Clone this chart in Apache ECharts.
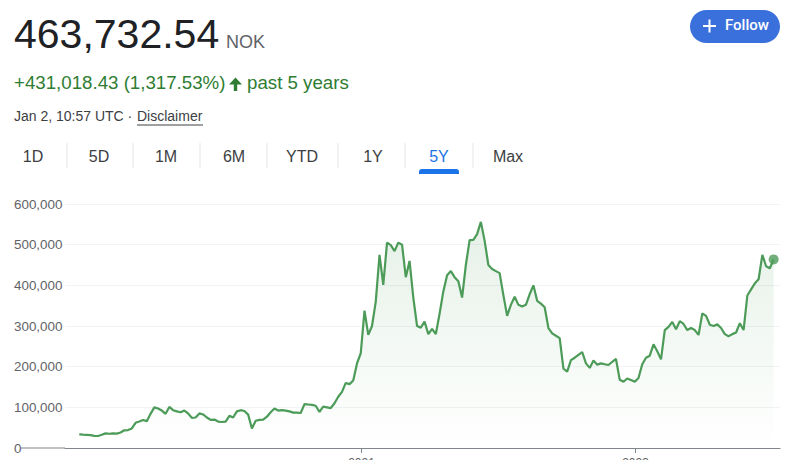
<!DOCTYPE html>
<html>
<head>
<meta charset="utf-8">
<script src="https://cdn.jsdelivr.net/npm/echarts@6/dist/echarts.min.js"></script>
<style>
  html, body { margin: 0; padding: 0; background: #fff; }
  #chart { width: 800px; height: 460px; }
</style>
</head>
<body>
<div id="chart"></div>
<script>
// ---- data ----
const priceText = '463,732.54';
const currency = 'NOK';
const changeText = '+431,018.43 (1,317.53%)';
const periodText = 'past 5 years';
const stampText = 'Jan 2, 10:57 UTC · ';
const disclaimerText = 'Disclaimer';
const tabs = ['1D', '5D', '1M', '6M', 'YTD', '1Y', '5Y', 'Max'];
const activeTab = '5Y';
const yTicks = [0, 100000, 200000, 300000, 400000, 500000, 600000];
const xTickYears = [2021, 2023];
const firstDate = [2018, 11, 11];   // y, m(0-based), d of first sample
const stepDays = 10;                // spacing of samples
const prices = [
  33700, 33000, 32500, 31500, 30000, 29500, 32500, 36000, 35000, 36000,
  35500, 38000, 43500, 44000, 48000, 62000, 65000, 69000, 66000, 84000,
  100000, 97000, 92000, 84000, 101000, 93000, 90000, 88000, 92000, 85000,
  74000, 75000, 85000, 82500, 75000, 69000, 70000, 65000, 64000, 65000,
  79000, 75000, 90000, 93000, 91000, 82000, 48000, 67000, 69000, 70000,
  77000, 88000, 97000, 92000, 93000, 92000, 90000, 87000, 87000, 86000,
  108000, 107000, 106000, 104000, 89000, 101600, 100000, 98000, 110000, 126000,
  138000, 160000, 157000, 166000, 208000, 233000, 338000, 278000, 300000, 360000,
  475000, 401000, 505000, 499000, 484000, 505000, 500000, 420000, 460000, 370000,
  300000, 296000, 311000, 280000, 293000, 280000, 330000, 385000, 425000, 435000,
  420000, 410000, 370000, 450000, 511000, 512000, 526000, 556000, 510000, 450000,
  440000, 435000, 430000, 376000, 325000, 352000, 372000, 352000, 348000, 352000,
  378000, 400000, 362000, 355000, 346000, 295000, 282000, 276000, 270000, 195000,
  188000, 216000, 222000, 229000, 236000, 208000, 197000, 215000, 205000, 208000,
  206000, 204000, 212000, 219000, 168000, 163000, 171000, 167000, 163000, 172000,
  206000, 222000, 227000, 255000, 238000, 218000, 290000, 298000, 310000, 292000,
  312000, 305000, 290000, 295000, 290000, 278000, 331000, 325000, 303000, 300000,
  304000, 295000, 280000, 275000, 280000, 284000, 307000, 290000, 375000, 390000,
  405000, 415000, 475000, 447000, 442000, 463732.54
];

// ---- build ----
const DAY = 86400000;
const t0 = new Date(firstDate[0], firstDate[1], firstDate[2]).getTime();
const dates = prices.map((_, i) => t0 + i * stepDays * DAY);
const seriesData = prices.map((v, i) => [dates[i], v]);
const lastPoint = seriesData[seriesData.length - 1];
const xMin = new Date(2018, 10, 3).getTime();
const xMax = new Date(2024, 0, 21).getTime();
const xTickValues = xTickYears.map(y => new Date(y, 0, 1).getTime());

const FONT = '"Liberation Sans", Arial, Helvetica, sans-serif';
const GREEN_TXT = '#2e7d32';
const GREEN_LINE = '#4c9b58';
const BLUE = '#1a73e8';
const GRID_LEFT = 65;

const tabCenters = [33, 99, 166, 234, 302, 373, 439, 508];
const tabSeps = [67, 133, 200, 267, 338, 405, 473];

const chart = echarts.init(document.getElementById('chart'), null, { renderer: 'svg' });

const graphics = [
  { type: 'text', left: 14, top: 13, style: { text: priceText, font: '41px ' + FONT, fill: '#202124' } },
  { type: 'text', left: 226, top: 33, style: { text: currency, font: '18px ' + FONT, fill: '#5f6368' } },
  { type: 'text', left: 14, top: 73, style: { text: changeText, font: '18.7px ' + FONT, fill: GREEN_TXT } },
  { type: 'polygon', shape: { points: [[229, 84.5], [235.5, 77.5], [242, 84.5], [237.2, 84.5], [237.2, 91], [233.8, 91], [233.8, 84.5]] }, style: { fill: GREEN_TXT } },
  { type: 'text', left: 247, top: 73, style: { text: periodText, font: '18.7px ' + FONT, fill: GREEN_TXT } },
  { type: 'text', left: 14, top: 109, style: { text: stampText, font: '14px ' + FONT, fill: '#3c4043' } },
  { type: 'text', left: 137, top: 109, style: { text: disclaimerText, font: '14px ' + FONT, fill: '#3c4043' } },
  { type: 'line', shape: { x1: 137, y1: 125, x2: 203, y2: 125 }, style: { stroke: '#3c4043', lineWidth: 1 } },
  // Follow button
  { type: 'rect', shape: { x: 690, y: 10, width: 90, height: 33, r: 16.5 }, style: { fill: '#3a70db' } },
  { type: 'rect', shape: { x: 703, y: 25, width: 13, height: 2 }, style: { fill: '#fff' } },
  { type: 'rect', shape: { x: 708.5, y: 19.5, width: 2, height: 13 }, style: { fill: '#fff' } },
  { type: 'text', left: 725, top: 17, style: { text: 'Follow', font: '500 15px Roboto, ' + FONT, fill: '#fff' } }
];
tabs.forEach((t, i) => {
  const active = t === activeTab;
  graphics.push({
    type: 'text', x: tabCenters[i], y: 156,
    style: { text: t, font: '16px ' + FONT, fill: active ? BLUE : '#3c4043', textAlign: 'center', textVerticalAlign: 'middle' }
  });
  if (active) {
    graphics.push({ type: 'rect', shape: { x: tabCenters[i] - 20, y: 169, width: 40, height: 5, r: [3, 3, 0, 0] }, style: { fill: BLUE } });
  }
});
tabSeps.forEach(x => {
  graphics.push({ type: 'line', shape: { x1: x, y1: 143, x2: x, y2: 168 }, style: { stroke: '#e3e5e8', lineWidth: 1 } });
});

chart.setOption({
  animation: false,
  grid: { left: GRID_LEFT, right: 20, top: 204, bottom: 12, containLabel: false, outerBoundsMode: 'none' },
  xAxis: {
    type: 'value',
    min: xMin,
    max: xMax,
    axisLine: { show: true, lineStyle: { color: '#80868b', width: 1.2 } },
    axisTick: { show: true, length: 5, customValues: xTickValues, lineStyle: { color: '#80868b' } },
    axisLabel: {
      customValues: xTickValues,
      formatter: v => String(new Date(v).getFullYear()),
      margin: 9, fontSize: 12, color: '#5f6368', fontFamily: FONT
    },
    splitLine: { show: false }
  },
  yAxis: {
    type: 'value',
    min: yTicks[0],
    max: yTicks[yTicks.length - 1],
    interval: yTicks[1] - yTicks[0],
    axisLine: { show: false },
    axisTick: { show: false },
    axisLabel: {
      align: 'left', margin: GRID_LEFT - 14,
      fontSize: 13.4, color: '#5f6368', fontFamily: FONT,
      formatter: v => v.toLocaleString('en-US')
    },
    splitLine: { lineStyle: { color: '#f1f3f4', width: 1 } }
  },
  series: [
    {
      type: 'line',
      data: seriesData,
      showSymbol: false,
      lineStyle: { color: GREEN_LINE, width: 2.2 },
      itemStyle: { color: GREEN_LINE },
      areaStyle: {
        color: new echarts.graphic.LinearGradient(0, 0, 0, 1, [
          { offset: 0, color: 'rgba(76,155,88,0.2)' },
          { offset: 1, color: 'rgba(76,155,88,0)' }
        ])
      },
      z: 3
    },
    {
      type: 'scatter',
      data: [lastPoint],
      symbolSize: 10,
      itemStyle: { color: GREEN_LINE },
      z: 4
    }
  ],
  graphic: graphics
});

// extend the baseline to the left, up to the "0" label
const y0 = chart.convertToPixel({ yAxisIndex: 0 }, 0);
graphics.push({ type: 'line', shape: { x1: 21, y1: y0, x2: GRID_LEFT, y2: y0 }, style: { stroke: '#80868b', lineWidth: 1.2 } });
chart.setOption({ graphic: graphics });
</script>
</body>
</html>
